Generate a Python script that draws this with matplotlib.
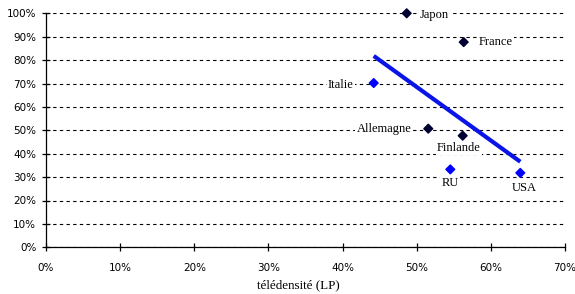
import matplotlib
matplotlib.use("Agg")
import matplotlib.pyplot as plt
import numpy as np
from matplotlib.ticker import PercentFormatter, MultipleLocator

countries = ["Japon", "France", "Italie", "Allemagne", "Finlande", "RU", "USA"]
teledensity = [0.4865, 0.5634, 0.442, 0.5156, 0.562, 0.5453, 0.6397]
share = [1.00, 0.877, 0.702, 0.507, 0.477, 0.333, 0.318]
marker_colors = ["#000033", "#000033", "#0000FF", "#000033", "#000033", "#0000FF", "#0000FF"]
# label offsets (points) and alignment
label_offsets = [(9.4, -1, "left"), (10.8, 0, "left"), (-14.4, -1.4, "right"), (-12.2, 0, "right"),
                 (-2.9, -9, "center"), (0, -10, "center"), (2.9, -11, "center")]
x_label = "télédensité (LP)"

fig = plt.figure(figsize=(5.75, 2.94), dpi=100)
ax = fig.add_axes([46/575, 1 - 247.3/294, (565-46)/575, (247.3-13.3)/294])

ax.set_xlim(0, 0.70)
ax.set_ylim(0, 1.0)

ax.yaxis.set_major_locator(MultipleLocator(0.1))
ax.xaxis.set_major_locator(MultipleLocator(0.1))
ax.xaxis.set_major_formatter(PercentFormatter(1.0, decimals=0))
ax.yaxis.set_major_formatter(PercentFormatter(1.0, decimals=0))

ax.grid(axis="y", color="black", linestyle=(0, (3, 3)), linewidth=0.8)
ax.set_axisbelow(True)
for s in ["top", "right"]:
    ax.spines[s].set_visible(False)
for s in ["left", "bottom"]:
    ax.spines[s].set_linewidth(0.9)

ax.tick_params(axis="both", direction="inout", length=6, width=0.9,
               labelsize=7.5, labelcolor="black")
ax.tick_params(axis="x", pad=8)
ax.tick_params(axis="y", pad=4)
for lab in ax.get_xticklabels() + ax.get_yticklabels():
    lab.set_family("DejaVu Sans")

# trend line (least squares over all points)
x = np.array(teledensity)
y = np.array(share)
slope, intercept = np.polyfit(x, y, 1)
xs = np.array([x.min(), x.max()])
ax.plot(xs, slope * xs + intercept, color="#0A14E6", linewidth=3.0, solid_capstyle="butt", zorder=3)

ax.scatter(x, y, marker="D", s=20, c=marker_colors, edgecolors=marker_colors, zorder=4, clip_on=False)

for name, xi, yi, (dx, dy, ha) in zip(countries, teledensity, share, label_offsets):
    ax.annotate(name, (xi, yi), xytext=(dx, dy), textcoords="offset points",
                ha=ha, va="center", fontsize=9, family="Liberation Serif", color="black",
                bbox=dict(boxstyle="square,pad=0.1", facecolor="white", edgecolor="none"))

ax.set_xlabel(x_label, fontsize=9.4, family="Liberation Serif")
ax.xaxis.set_label_coords((298 - 46) / 519, -(285.3 - 247.3) / 234)
ax.xaxis.label.set_va("center")

fig.savefig("out.png", dpi=100)
